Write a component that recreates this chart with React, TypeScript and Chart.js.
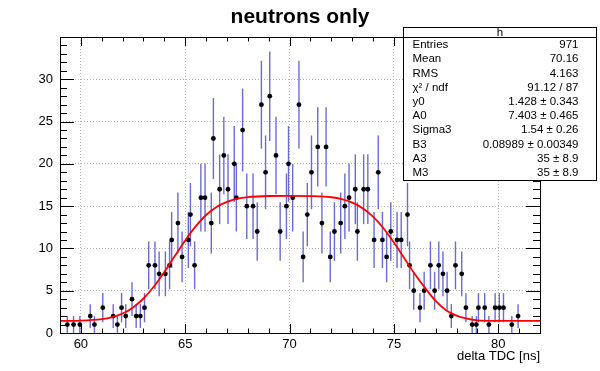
import React, { useEffect, useRef } from 'react';
import { Chart, registerables } from 'chart.js';

Chart.register(...registerables);

// Histogram "h": bin centers (ns) and counts
const binCenters = [
  59.35, 59.65, 59.95, 60.45, 60.65, 61.05, 61.55, 61.75, 61.95, 62.15,
  62.45, 62.65, 62.85, 63.05, 63.25, 63.55, 63.75, 64.05, 64.25, 64.35,
  64.65, 64.85, 65.15, 65.25, 65.45, 65.75, 65.95, 66.25, 66.35, 66.65,
  66.85, 67.05, 67.35, 67.45, 67.75, 67.95, 68.25, 68.45, 68.65, 68.85,
  69.05, 69.35, 69.55, 69.85, 69.95, 70.15, 70.45, 70.65, 70.85, 71.05,
  71.35, 71.55, 71.75, 71.95, 72.15, 72.45, 72.65, 72.85, 73.15, 73.25,
  73.55, 73.75, 74.05, 74.25, 74.45, 74.65, 74.85, 75.15, 75.35, 75.65,
  75.75, 75.95, 76.25, 76.45, 76.75, 76.95, 77.15, 77.35, 77.55, 77.75,
  77.95, 78.25, 78.45, 78.75, 78.95, 79.05, 79.35, 79.55, 79.85, 80.05,
  80.25, 80.65, 80.95,
];
const counts = [
  1, 1, 1, 2, 1, 3, 2, 1, 3, 2,
  4, 2, 2, 3, 8, 8, 7, 7, 8, 11,
  13, 9, 11, 14, 8, 16, 16, 13, 23, 17,
  21, 17, 20, 16, 24, 15, 15, 12, 27, 19,
  28, 21, 12, 15, 20, 16, 27, 9, 14, 19,
  22, 13, 22, 9, 12, 13, 15, 16, 17, 12,
  17, 17, 11, 19, 11, 9, 12, 11, 11, 14,
  8, 5, 3, 5, 8, 5, 8, 7, 5, 2,
  8, 7, 3, 1, 1, 3, 3, 1, 3, 3,
  3, 1, 2,
];

// Fit curve samples
const fitX = [
  59, 60, 61, 61.5, 62, 62.5, 63, 63.5, 64, 64.5, 65, 65.5, 66, 66.5, 67, 67.5,
  68, 69, 70, 71, 72, 72.5, 73, 73.5, 74, 74.5, 75, 75.5, 76, 76.5, 77, 77.5,
  78, 78.5, 79, 80, 81, 82,
];
const fitY = [
  1.43, 1.46, 1.63, 1.87, 2.3, 3.02, 4.08, 5.5, 7.22, 9.1, 10.95, 12.6, 13.95, 14.9, 15.5, 15.88,
  16.07, 16.2, 16.22, 16.19, 16.05, 15.83, 15.42, 14.76, 13.75, 12.38, 10.69, 8.83, 6.97, 5.3, 3.8, 2.7,
  2.05, 1.7, 1.5, 1.44, 1.43, 1.43,
];

const xTicks = [60, 65, 70, 75, 80];
const yTicks = [0, 5, 10, 15, 20, 25, 30];

const statLabels = ['Entries', 'Mean', 'RMS', 'χ² / ndf', 'y0', 'A0', 'Sigma3', 'B3', 'A3', 'M3'];
const statValues = [
  '971', '70.16', '4.163', '91.12 / 87', '1.428 ± 0.343', '7.403 ± 0.465',
  '1.54 ± 0.26', '0.08989 ± 0.00349', '35 ± 8.9', '35 ± 8.9',
];

const FONT = '"Liberation Sans", Arial, Helvetica, sans-serif';

const errorBarPlugin = {
  id: 'errorBars',
  beforeDatasetsDraw(chart: any) {
    const { ctx, chartArea, scales } = chart;
    ctx.save();
    ctx.beginPath();
    ctx.rect(chartArea.left, chartArea.top, chartArea.right - chartArea.left, chartArea.bottom - chartArea.top);
    ctx.clip();
    ctx.strokeStyle = 'rgba(70,70,200,0.8)';
    ctx.lineWidth = 1.4;
    binCenters.forEach((x, i) => {
      const n = counts[i];
      const e = Math.sqrt(n);
      const px = scales.x.getPixelForValue(x);
      ctx.beginPath();
      ctx.moveTo(px, scales.y.getPixelForValue(n - e));
      ctx.lineTo(px, scales.y.getPixelForValue(n + e));
      ctx.stroke();
    });
    ctx.restore();
  },
};

const framePlugin = {
  id: 'frame',
  afterDraw(chart: any) {
    const { ctx, chartArea, scales } = chart;
    const { left, right, top, bottom } = chartArea;
    ctx.save();
    ctx.strokeStyle = '#000';
    ctx.lineWidth = 1;
    ctx.strokeRect(Math.round(left) + 0.5, Math.round(top) + 0.5, Math.round(right - left), Math.round(bottom - top));
    ctx.beginPath();
    // x ticks (bottom and top)
    for (let v = 59; v <= 82; v += 1) {
      const px = Math.round(scales.x.getPixelForValue(v)) + 0.5;
      const len = v % 5 === 0 ? 9 : 4.5;
      ctx.moveTo(px, bottom);
      ctx.lineTo(px, bottom - len);
      ctx.moveTo(px, top);
      ctx.lineTo(px, top + len);
    }
    // y ticks (left and right)
    for (let v = 0; v <= 35; v += 1) {
      const py = Math.round(scales.y.getPixelForValue(v)) + 0.5;
      const len = v % 5 === 0 ? 14 : 7;
      ctx.moveTo(left, py);
      ctx.lineTo(left + len, py);
      ctx.moveTo(right, py);
      ctx.lineTo(right - len, py);
    }
    ctx.stroke();

    // Title
    ctx.fillStyle = '#000';
    ctx.font = `bold 21px ${FONT}`;
    ctx.textAlign = 'center';
    ctx.textBaseline = 'middle';
    ctx.fillText('neutrons only', 300, 17);

    // x axis title
    ctx.font = `13px ${FONT}`;
    ctx.textAlign = 'right';
    ctx.fillText('delta TDC [ns]', right, 356);

    // Stats box
    const bx = 403.5, by = 27.5, bw = 193, bh = 153;
    ctx.fillStyle = '#fff';
    ctx.fillRect(bx, by, bw, bh);
    ctx.strokeStyle = '#000';
    ctx.strokeRect(bx, by, bw, bh);
    ctx.beginPath();
    ctx.moveTo(bx, 37.5);
    ctx.lineTo(bx + bw, 37.5);
    ctx.stroke();
    ctx.fillStyle = '#000';
    ctx.font = `11.5px ${FONT}`;
    ctx.textAlign = 'center';
    ctx.fillText('h', bx + bw / 2, 32.5);
    statLabels.forEach((lab, i) => {
      const y = 45 + i * 14.2;
      ctx.textAlign = 'left';
      ctx.fillText(lab, 412.5, y);
      ctx.textAlign = 'right';
      ctx.fillText(statValues[i], 578.5, y);
    });
    ctx.restore();
  },
};

export default function App() {
  const ref = useRef<HTMLCanvasElement | null>(null);
  useEffect(() => {
    document.body.style.margin = '0';
    const canvas = ref.current;
    if (!canvas) return;
    const chart = new Chart(canvas, {
      type: 'scatter',
      data: {
        datasets: [
          {
            label: 'fit',
            type: 'line',
            data: fitX.map((x, i) => ({ x, y: fitY[i] })),
            borderColor: '#ff0000',
            borderWidth: 1.8,
            pointRadius: 0,
            fill: false,
            cubicInterpolationMode: 'monotone',
            order: 0,
          } as any,
          {
            label: 'h',
            data: binCenters.map((x, i) => ({ x, y: counts[i] })),
            backgroundColor: '#000',
            borderWidth: 0,
            pointRadius: 2.4,
            showLine: false,
            order: 1,
          },
        ],
      },
      options: {
        responsive: false,
        animation: false,
        devicePixelRatio: 1,
        layout: { padding: { top: 37, right: 60, left: 0, bottom: 0 } },
        plugins: {
          legend: { display: false },
          title: { display: false },
          tooltip: { enabled: false },
        },
        scales: {
          x: {
            type: 'linear',
            min: 59,
            max: 82,
            afterBuildTicks: (s: any) => {
              s.ticks = xTicks.map((v) => ({ value: v }));
            },
            afterFit: (s: any) => {
              s.height = 38;
            },
            grid: { color: '#b4b4b4', lineWidth: 1, drawTicks: false },
            border: { display: false, dash: [1, 2] },
            ticks: {
              padding: 4,
              color: '#000',
              font: { family: FONT, size: 13 },
              maxRotation: 0,
            },
          },
          y: {
            type: 'linear',
            min: 0,
            max: 35,
            afterBuildTicks: (s: any) => {
              s.ticks = yTicks.map((v) => ({ value: v }));
            },
            afterFit: (s: any) => {
              s.width = 60;
            },
            grid: { color: '#b4b4b4', lineWidth: 1, drawTicks: false },
            border: { display: false, dash: [1, 2] },
            ticks: {
              padding: 7,
              color: '#000',
              font: { family: FONT, size: 13 },
            },
          },
        },
      },
      plugins: [errorBarPlugin, framePlugin],
    });
    return () => chart.destroy();
  }, []);
  return (
    <div style={{ position: 'absolute', left: 0, top: 0, width: 600, height: 371, background: '#fff' }}>
      <canvas ref={ref} width={600} height={371} style={{ width: 600, height: 371, display: 'block' }} />
    </div>
  );
}
